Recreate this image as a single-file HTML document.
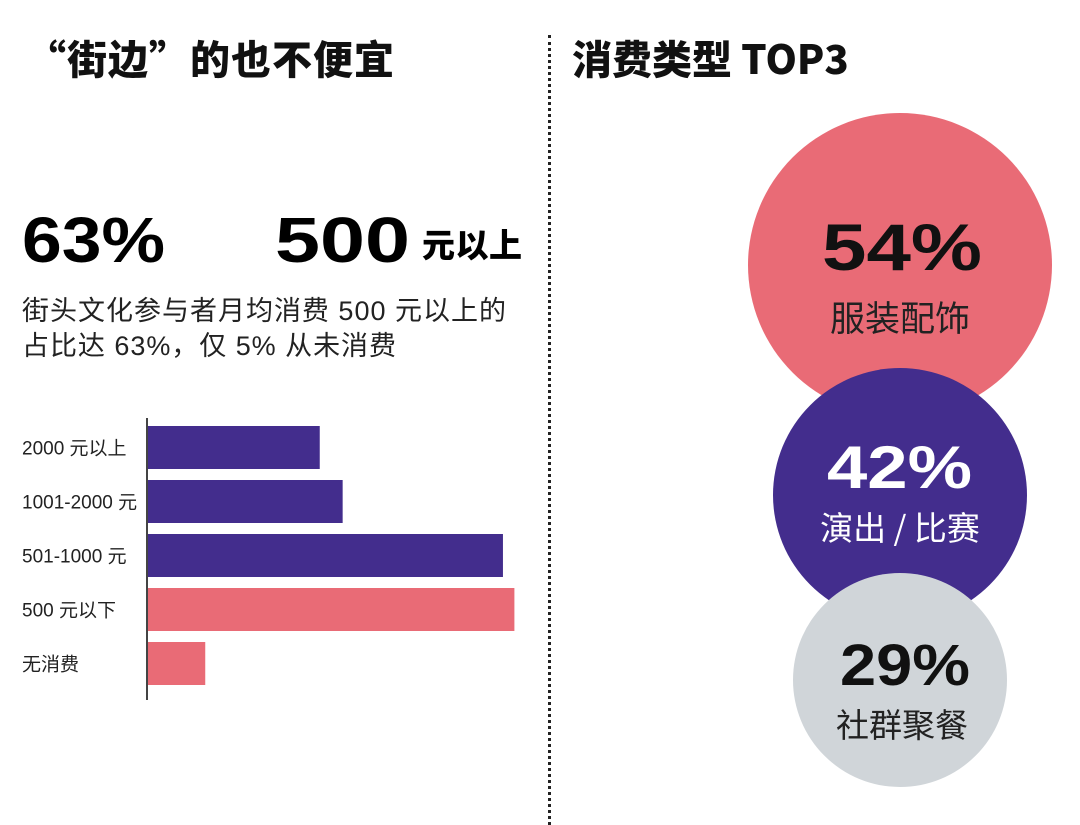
<!DOCTYPE html>
<html><head><meta charset="utf-8"><style>
body{margin:0;width:1080px;height:825px;background:#fff;overflow:hidden;position:relative;font-family:"Liberation Sans","Noto Sans CJK SC",sans-serif;color:#111}
.a{position:absolute;white-space:nowrap}
</style></head><body>
<div class="a" style="left:26px;top:28px;font-size:40px;font-weight:900;font-family:'Noto Sans CJK SC',sans-serif;letter-spacing:1px">“街边”的也不便宜</div>
<div class="a" style="left:572px;top:28px;font-size:40px;font-weight:900;font-family:'Noto Sans CJK SC',sans-serif">消费类型 TOP3</div>
<div class="a" style="left:548px;top:35px;height:790px;border-left:3px dotted #222"></div>
<svg class="a" style="left:0;top:0" width="1080" height="825" id="chart">
<text x="22" y="262" font-size="64" font-weight="900" textLength="143" lengthAdjust="spacingAndGlyphs">63%</text>
<text x="275" y="262" font-size="64" font-weight="900" textLength="135" lengthAdjust="spacingAndGlyphs">500</text>
<text x="422" y="257" font-size="33" font-weight="900" font-family="Noto Sans CJK SC" textLength="100">元以上</text>
<text x="22" y="320" font-size="27" fill="#222" textLength="484">街头文化参与者月均消费 500 元以上的</text>
<text x="22" y="355" font-size="27" fill="#222" textLength="374">占比达 63%，仅 5% 从未消费</text>
<line x1="147" y1="418" x2="147" y2="700" stroke="#444" stroke-width="2"/>
<circle cx="900" cy="265" r="152" fill="#e96b76"/>
<circle cx="900" cy="495" r="127" fill="#432d8d"/>
<circle cx="900" cy="680" r="107" fill="#d0d5d9"/>
<text x="822" y="270" font-size="66" font-weight="900" fill="#111" textLength="160" lengthAdjust="spacingAndGlyphs">54%</text>
<text x="900" y="331" text-anchor="middle" font-size="35" fill="#222" font-family="Noto Sans CJK SC">服装配饰</text>
<text x="827" y="488" font-size="60" font-weight="900" fill="#fff" textLength="145" lengthAdjust="spacingAndGlyphs">42%</text>
<text x="900" y="540" text-anchor="middle" font-size="33" fill="#fff" font-family="Noto Sans CJK SC">演出 / 比赛</text>
<text x="840" y="685" font-size="58" font-weight="900" fill="#111" textLength="130" lengthAdjust="spacingAndGlyphs">29%</text>
<text x="902" y="737" text-anchor="middle" font-size="33" fill="#222" font-family="Noto Sans CJK SC">社群聚餐</text>
</svg>
<script>
const categories=["2000 元以上","1001-2000 元","501-1000 元","500 元以下","无消费"];
const values=[15,17,31,32,5];
const colors=["#432d8d","#432d8d","#432d8d","#e96b76","#e96b76"];
const svg=document.getElementById('chart');
const NS="http://www.w3.org/2000/svg";
const x0=148,pxPer=11.45,y0=426,step=54,bh=43;
const xs=v=>v*pxPer;
const ys=i=>y0+i*step;
categories.forEach((c,i)=>{
  const r=document.createElementNS(NS,'rect');
  r.setAttribute('x',x0);r.setAttribute('y',ys(i));
  r.setAttribute('width',xs(values[i]));r.setAttribute('height',bh);
  r.setAttribute('fill',colors[i]);
  
  
  svg.appendChild(r);
  const t=document.createElementNS(NS,'text');
  t.setAttribute('x',22);t.setAttribute('y',ys(i)+bh/2+7);
  t.setAttribute('font-size','19');t.setAttribute('fill','#222');
  t.textContent=c;
  
  
  svg.appendChild(t);
});
</script>
</body></html>
